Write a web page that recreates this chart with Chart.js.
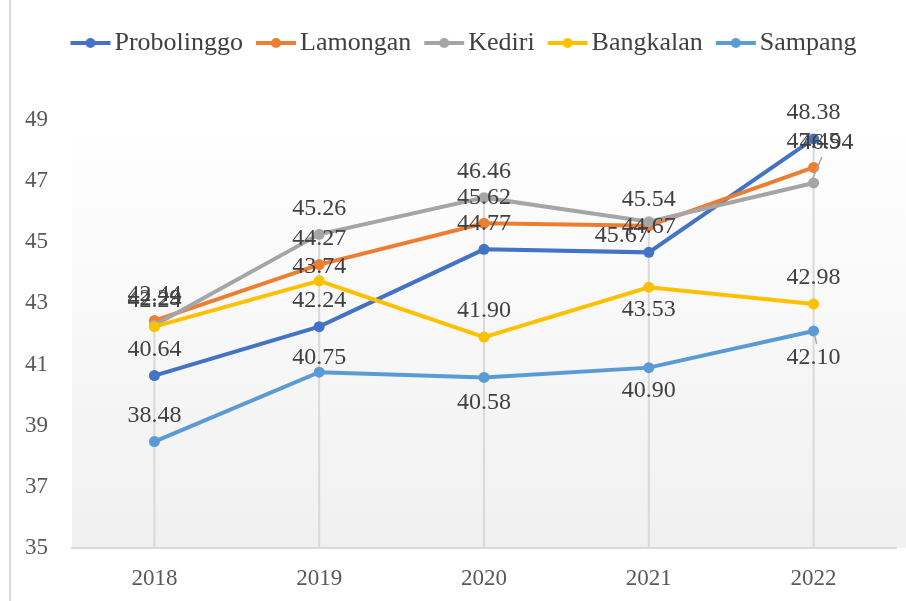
<!DOCTYPE html>
<html>
<head>
<meta charset="utf-8">
<script src="https://cdn.jsdelivr.net/npm/chart.js@4"></script>
<style>
  body { margin: 0; background: #fff; }
  #wrap { position: relative; width: 906px; height: 601px; }
  #wrap::before { content: ""; position: absolute; left: 9px; top: 0; bottom: 0; width: 2px; background: #d9d9d9; }
</style>
</head>
<body>
<div id="wrap"><canvas id="chart" width="906" height="601"></canvas></div>
<script>
// Data
const years = ["2018", "2019", "2020", "2021", "2022"];
const probolinggo = [40.64, 42.24, 44.77, 44.67, 48.38];
const lamongan = [42.44, 44.27, 45.62, 45.54, 47.45];
const kediri = [42.29, 45.26, 46.46, 45.67, 46.94];
const bangkalan = [42.24, 43.74, 41.90, 43.53, 42.98];
const sampang = [38.48, 40.75, 40.58, 40.90, 42.10];
const yMin = 35, yMax = 49, yStep = 2;

const series = [
  { name: "Probolinggo", values: probolinggo, color: "#4472C4" },
  { name: "Lamongan", values: lamongan, color: "#ED7D31" },
  { name: "Kediri", values: kediri, color: "#A5A5A5" },
  { name: "Bangkalan", values: bangkalan, color: "#FFC000" },
  { name: "Sampang", values: sampang, color: "#5B9BD5" }
];

const FONT = "'Liberation Serif', 'Times New Roman', serif";

// where a value label sits relative to its point (default: above)
const labelShift = {
  "3:1": [0, -14], "4:1": [0, -15],
  "4:2": [0, 25],
  "2:3": [-27, 14], "3:3": [0, 22], "4:3": [0, 23],
  "2:4": [13, -40], "4:4": [0, 27]
};
// labels moved far enough to get a small leader line
const leaders = ["2:4", "4:4"];

// line + dot swatch for the legend
function legendIcon(color) {
  const c = document.createElement("canvas");
  c.width = 52; c.height = 14;
  const ctx = c.getContext("2d");
  ctx.strokeStyle = color; ctx.lineWidth = 4;
  ctx.beginPath(); ctx.moveTo(10, 7); ctx.lineTo(50, 7); ctx.stroke();
  ctx.fillStyle = color;
  ctx.beginPath(); ctx.arc(30, 7, 5, 0, Math.PI * 2); ctx.fill();
  return c;
}

const plotBackground = {
  id: "plotBackground",
  beforeDraw(chart) {
    const { ctx, chartArea: a } = chart;
    const g = ctx.createLinearGradient(0, a.top, 0, a.bottom);
    g.addColorStop(0, "#ffffff");
    g.addColorStop(1, "#f0f0f0");
    ctx.save();
    ctx.fillStyle = g;
    ctx.fillRect(a.left, a.top, chart.width - a.left, a.bottom - a.top);
    ctx.restore();
  }
};

// drop lines from the highest point of each year down to the axis
const dropLines = {
  id: "dropLines",
  beforeDatasetsDraw(chart) {
    const { ctx, scales } = chart;
    ctx.save();
    ctx.strokeStyle = "#d9d9d9";
    ctx.lineWidth = 2;
    years.forEach((y, i) => {
      const top = Math.max(...series.map(s => s.values[i]));
      const x = scales.x.getPixelForValue(i);
      ctx.beginPath();
      ctx.moveTo(x, scales.y.getPixelForValue(top));
      ctx.lineTo(x, chart.chartArea.bottom);
      ctx.stroke();
    });
    ctx.restore();
  }
};

const valueLabels = {
  id: "valueLabels",
  afterDatasetsDraw(chart) {
    const ctx = chart.ctx;
    ctx.save();
    ctx.font = "24px " + FONT;
    ctx.fillStyle = "#404040";
    ctx.textAlign = "center";
    ctx.textBaseline = "middle";
    chart.data.datasets.forEach((ds, di) => {
      chart.getDatasetMeta(di).data.forEach((pt, i) => {
        const key = di + ":" + i;
        const [dx, dy] = labelShift[key] || [0, -26];
        if (leaders.includes(key)) {
          const dir = Math.sign(dy);
          ctx.strokeStyle = "#a6a6a6";
          ctx.lineWidth = 1.5;
          ctx.beginPath();
          ctx.moveTo(pt.x + dir * 1, pt.y + dir * 4);
          ctx.lineTo(pt.x + dx * 0.4 + 3, pt.y + dy - dir * 14);
          ctx.stroke();
        }
        ctx.fillText(ds.data[i].toFixed(2), pt.x + dx, pt.y + dy);
      });
    });
    ctx.restore();
  }
};

// room under the legend, and nudge the legend right like the original
const legendSpace = {
  id: "legendSpace",
  beforeLayout(chart) {
    const legend = chart.legend;
    if (legend && !legend._patched) {
      const fit = legend.fit;
      legend.fit = function () { fit.call(this); this.height = 104; };
      legend._patched = true;
    }
  },
  afterLayout(chart) {
    chart.legend.left += 16;
    chart.legend.right += 16;
  }
};

new Chart(document.getElementById("chart"), {
  type: "line",
  data: {
    labels: years,
    datasets: series.map((s, i) => ({
      label: s.name,
      data: s.values,
      borderColor: s.color,
      backgroundColor: s.color,
      pointBackgroundColor: s.color,
      borderWidth: 4,
      pointRadius: 5.5,
      pointBorderWidth: 0,
      tension: 0,
      order: series.length - i
    }))
  },
  options: {
    responsive: false,
    animation: false,
    layout: { padding: { top: 16, left: 0, right: 10, bottom: 0 } },
    plugins: {
      tooltip: { enabled: false },
      legend: {
        position: "top",
        labels: {
          usePointStyle: true,
          pointStyleWidth: 30,
          padding: 14,
          color: "#404040",
          font: { family: FONT, size: 26 },
          generateLabels(chart) {
            return chart.data.datasets.map((ds, i) => ({
              text: ds.label,
              pointStyle: legendIcon(ds.borderColor),
              fillStyle: ds.borderColor,
              strokeStyle: ds.borderColor,
              lineWidth: 0,
              fontColor: "#404040",
              hidden: false,
              datasetIndex: i
            }));
          }
        }
      }
    },
    scales: {
      x: {
        offset: true,
        grid: { display: false, drawTicks: false },
        border: { display: true, color: "#d9d9d9", width: 2 },
        ticks: { color: "#595959", padding: 17, font: { family: FONT, size: 23 } },
        afterFit(scale) { scale.height = 53; }
      },
      y: {
        min: yMin,
        max: yMax,
        grid: { display: false, drawTicks: false },
        border: { display: false },
        ticks: { stepSize: yStep, color: "#595959", padding: 24, font: { family: FONT, size: 23 } },
        afterFit(scale) { scale.width = 72; }
      }
    }
  },
  plugins: [plotBackground, dropLines, valueLabels, legendSpace]
});
</script>
</body>
</html>
